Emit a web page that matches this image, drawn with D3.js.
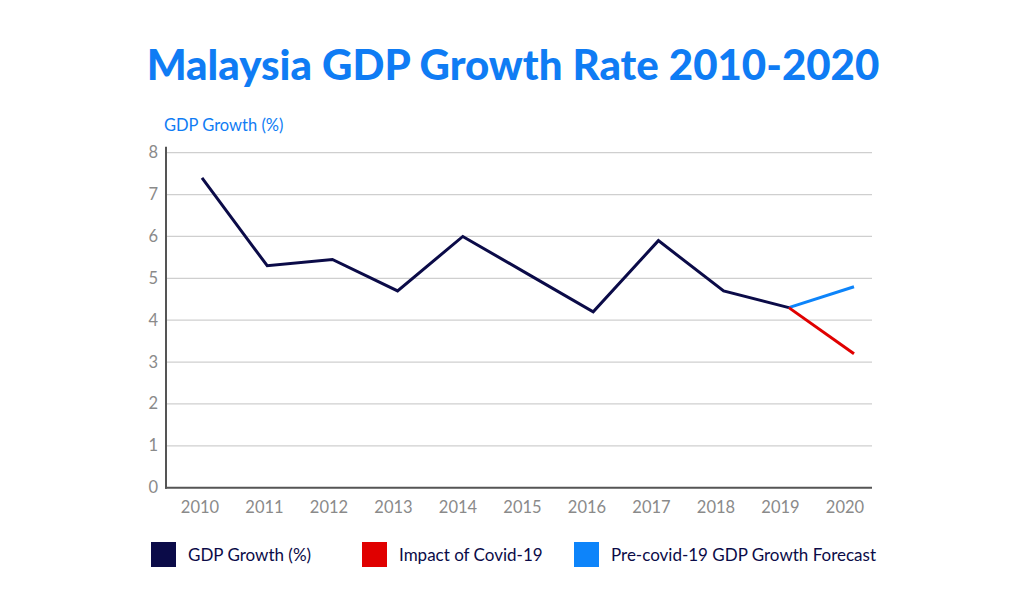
<!DOCTYPE html>
<html>
<head>
<meta charset="utf-8">
<script src="https://cdn.jsdelivr.net/npm/d3@7"></script>
<style>
  html, body { margin: 0; padding: 0; background: #fff; }
  svg { display: block; font-family: Lato, "Open Sans", sans-serif; }
</style>
</head>
<body>
<svg id="chart" width="1024" height="609"></svg>
<script>
const years = ["2010","2011","2012","2013","2014","2015","2016","2017","2018","2019","2020"];
const gdpGrowth = [7.4, 5.3, 5.45, 4.7, 6.0, 5.1, 4.2, 5.9, 4.7, 4.3];
const covidYears = ["2019","2020"];
const covidImpact = [4.3, 3.2];
const forecastYears = ["2019","2020"];
const forecast = [4.3, 4.8];
const yTicks = [0,1,2,3,4,5,6,7,8];
const legendLabels = ["GDP Growth (%)", "Impact of Covid-19", "Pre-covid-19 GDP Growth Forecast"];

(function () {
const colors = { navy: "#0b0b48", red: "#e00000", blue: "#0d84fa", title: "#0f7cf4" };

const svg = d3.select("#chart");

// Title
svg.append("text")
  .attr("x", 513).attr("y", 80)
  .attr("text-anchor", "middle")
  .attr("font-size", 42).attr("font-weight", 900)
  .attr("fill", colors.title)
  .text("Malaysia GDP Growth Rate 2010-2020");

const pLeft = 166, pRight = 872, pTop = 152.7, pBottom = 487.7;
const x = d3.scalePoint().domain(years).range([202, 854]);
const xLab = d3.scalePoint().domain(years).range([200, 845]);
const y = d3.scaleLinear().domain([0, 8]).range([pBottom, pTop]);

// Gridlines
svg.append("g").selectAll("line").data(yTicks.filter(d => d > 0)).join("line")
  .attr("x1", pLeft).attr("x2", pRight)
  .attr("y1", d => y(d)).attr("y2", d => y(d))
  .attr("stroke", "#cfcfcf").attr("stroke-width", 1.3);

// Y tick labels
svg.append("g").selectAll("text").data(yTicks).join("text")
  .attr("x", pLeft - 8).attr("y", d => y(d) + 5.5)
  .attr("text-anchor", "end")
  .attr("font-size", 16.5).attr("fill", "#8a8a8a")
  .text(d => d);

// X tick labels
svg.append("g").selectAll("text").data(years).join("text")
  .attr("x", d => xLab(d)).attr("y", pBottom + 25)
  .attr("text-anchor", "middle")
  .attr("font-size", 16.5).attr("fill", "#8a8a8a")
  .text(d => d);

// Axes lines
svg.append("line").attr("x1", pLeft).attr("x2", pLeft).attr("y1", pTop - 6).attr("y2", pBottom + 1)
  .attr("stroke", "#555").attr("stroke-width", 2);
svg.append("line").attr("x1", pLeft - 1).attr("x2", pRight).attr("y1", pBottom).attr("y2", pBottom)
  .attr("stroke", "#555").attr("stroke-width", 2);

// Y axis title
svg.append("text")
  .attr("x", 164).attr("y", 131)
  .attr("font-size", 16.5).attr("fill", colors.title)
  .text("GDP Growth (%)");

const line = d3.line().x(d => x(d[0])).y(d => y(d[1]));

svg.append("path").datum(forecastYears.map((d, i) => [d, forecast[i]]))
  .attr("d", line).attr("fill", "none").attr("stroke", colors.blue).attr("stroke-width", 3);
svg.append("path").datum(covidYears.map((d, i) => [d, covidImpact[i]]))
  .attr("d", line).attr("fill", "none").attr("stroke", colors.red).attr("stroke-width", 3);
svg.append("path").datum(gdpGrowth.map((v, i) => [years[i], v]))
  .attr("d", line).attr("fill", "none").attr("stroke", colors.navy).attr("stroke-width", 3)
  .attr("stroke-linejoin", "miter");

// Legend
const legendX = [151, 362, 574];
const legendColors = [colors.navy, colors.red, colors.blue];
const lg = svg.append("g").selectAll("g").data(legendLabels).join("g")
  .attr("transform", (d, i) => `translate(${legendX[i]},542)`);
lg.append("rect").attr("width", 25).attr("height", 25).attr("fill", (d, i) => legendColors[i]);
lg.append("text").attr("x", 37).attr("y", 18.5)
  .attr("font-size", 17).attr("fill", colors.navy)
  .text(d => d);
})();
</script>
</body>
</html>
